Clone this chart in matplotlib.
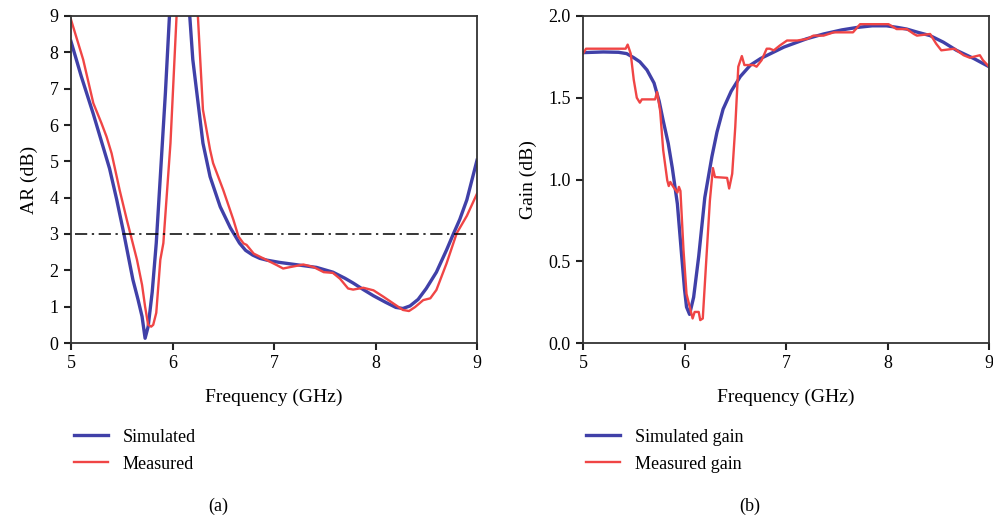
import numpy as np
import matplotlib
matplotlib.use('Agg')
import matplotlib.pyplot as plt

plt.rcParams['font.family'] = ['Liberation Serif', 'DejaVu Serif']

# AR (dB) vs frequency (GHz)
ar_sim_f = [5.00, 5.10, 5.22, 5.30, 5.38, 5.45, 5.52, 5.61, 5.66, 5.70, 5.73, 5.76, 5.80, 5.84,
            5.88, 5.93, 5.97, 6.02, 6.07, 6.12, 6.17, 6.20, 6.24, 6.30, 6.37, 6.47, 6.57, 6.66,
            6.72, 6.79, 6.86, 6.93, 7.05, 7.26, 7.42, 7.58, 7.70, 7.78, 7.88, 7.98, 8.10,
            8.20, 8.27, 8.34, 8.42, 8.50, 8.60, 8.70, 8.77, 8.83, 8.90, 9.00]
ar_sim = [8.30, 7.35, 6.30, 5.55, 4.80, 3.95, 3.02, 1.74, 1.20, 0.73, 0.13, 0.45, 1.40, 2.75,
          4.58, 6.88, 9.00, 12.5, 14.0, 12.5, 9.00, 7.80, 6.88, 5.50, 4.58, 3.75, 3.17, 2.75,
          2.55, 2.42, 2.33, 2.28, 2.22, 2.14, 2.08, 1.95, 1.78, 1.65, 1.47, 1.30, 1.12,
          0.98, 0.95, 1.02, 1.20, 1.50, 1.95, 2.56, 3.02, 3.40, 3.94, 5.03]

ar_meas_f = [5.00, 5.12, 5.22, 5.30, 5.35, 5.40, 5.48, 5.55, 5.65, 5.70, 5.73, 5.76, 5.79,
             5.81, 5.84, 5.88, 5.91, 5.98, 6.04, 6.09, 6.15, 6.21, 6.25, 6.30, 6.37, 6.40,
             6.50, 6.60, 6.65, 6.70, 6.73, 6.80, 6.93, 7.03, 7.09, 7.16, 7.29, 7.39, 7.49,
             7.58, 7.65, 7.73, 7.78, 7.88, 7.98, 8.08, 8.18, 8.27, 8.33, 8.39, 8.47, 8.54,
             8.60, 8.70, 8.80, 8.90, 9.00]
ar_meas = [8.90, 7.80, 6.60, 6.05, 5.68, 5.22, 4.20, 3.39, 2.29, 1.60, 1.00, 0.50, 0.45,
           0.50, 0.83, 2.29, 2.75, 5.50, 9.00, 13.0, 14.0, 12.0, 9.00, 6.42, 5.32, 4.95,
           4.21, 3.39, 2.93, 2.74, 2.70, 2.46, 2.28, 2.14, 2.05, 2.09, 2.16, 2.09, 1.95,
           1.93, 1.77, 1.50, 1.47, 1.52, 1.45, 1.27, 1.08, 0.91, 0.88, 0.99, 1.18, 1.23,
           1.46, 2.19, 3.02, 3.50, 4.11]

# Gain (dB) vs frequency (GHz)
g_sim_f = [5.00, 5.20, 5.35, 5.43, 5.50, 5.56, 5.63, 5.70, 5.75, 5.79, 5.84, 5.88, 5.93, 5.97,
           6.00, 6.02, 6.05, 6.09, 6.14, 6.20, 6.27, 6.32, 6.38, 6.46, 6.55, 6.65, 6.75,
           6.98, 7.20, 7.37, 7.55, 7.70, 7.85, 7.99, 8.10, 8.19, 8.30, 8.42, 8.55, 8.68,
           8.85, 9.00]
g_sim = [1.776, 1.780, 1.778, 1.770, 1.745, 1.72, 1.67, 1.59, 1.48, 1.36, 1.22, 1.07, 0.85, 0.55,
         0.33, 0.22, 0.175, 0.28, 0.53, 0.89, 1.14, 1.29, 1.43, 1.54, 1.63, 1.70, 1.74,
         1.81, 1.86, 1.89, 1.915, 1.93, 1.94, 1.94, 1.93, 1.92, 1.90, 1.88, 1.84, 1.79,
         1.74, 1.69]

g_meas_f = [5.00, 5.03, 5.42, 5.44, 5.47, 5.50, 5.53, 5.56, 5.58, 5.71, 5.73, 5.76, 5.79,
            5.83, 5.845, 5.86, 5.89, 5.93, 5.945, 5.96, 5.99, 6.02, 6.06, 6.08, 6.10, 6.14,
            6.155, 6.18, 6.21, 6.25, 6.28, 6.30, 6.42, 6.44, 6.47, 6.50, 6.53, 6.565, 6.59,
            6.68, 6.71, 6.76, 6.81, 6.84, 6.88, 6.94, 7.01, 7.11, 7.21, 7.27, 7.37, 7.47,
            7.66, 7.73, 7.80, 8.01, 8.09, 8.19, 8.26, 8.29, 8.42, 8.48, 8.53, 8.66, 8.75,
            8.81, 8.91, 8.94, 9.00]
g_meas = [1.77, 1.80, 1.80, 1.825, 1.77, 1.61, 1.50, 1.47, 1.49, 1.49, 1.535, 1.42, 1.18,
          0.995, 0.96, 0.985, 0.955, 0.92, 0.955, 0.93, 0.57, 0.30, 0.20, 0.15, 0.19, 0.19,
          0.14, 0.15, 0.46, 0.87, 1.07, 1.015, 1.01, 0.945, 1.035, 1.32, 1.69, 1.755, 1.70,
          1.70, 1.69, 1.73, 1.80, 1.80, 1.79, 1.82, 1.85, 1.85, 1.86, 1.88, 1.88, 1.90,
          1.90, 1.95, 1.95, 1.95, 1.92, 1.92, 1.89, 1.88, 1.89, 1.83, 1.79, 1.80, 1.76,
          1.745, 1.76, 1.73, 1.69]

blue = '#4040a8'
red = '#f04545'

fig = plt.figure(figsize=(9.93, 5.23), dpi=100)
ax1 = fig.add_axes([71 / 993, 1 - 343 / 523, 406 / 993, 327 / 523])
ax2 = fig.add_axes([583 / 993, 1 - 343 / 523, 406 / 993, 327 / 523])


def style(ax):
    for s in ax.spines.values():
        s.set_color('#333333')
        s.set_linewidth(1.3)
    ax.tick_params(direction='out', length=5, width=1.5, labelsize=13, color='#222222',
                   top=False, right=False, pad=4)
    ax.set_xlim(5, 9)
    ax.set_xticks([5, 6, 7, 8, 9])
    ax.set_xlabel('Frequency (GHz)', fontsize=14, labelpad=12)


def add_legend(ax):
    ax.legend(loc='upper left', bbox_to_anchor=(-0.01, -0.24), frameon=False, fontsize=13,
              handlelength=1.9, handletextpad=0.8, labelspacing=0.55, borderaxespad=0)


# (a) axial ratio
ax1.plot(ar_sim_f, ar_sim, color=blue, lw=2.4, label='Simulated')
ax1.plot(ar_meas_f, ar_meas, color=red, lw=1.7, label='Measured')
ax1.axhline(3, xmin=0.01, xmax=1, color='black', lw=1.1, ls=(0, (8, 3, 1.5, 3)))
ax1.set_ylim(0, 9)
ax1.set_yticks(range(10))
ax1.set_ylabel('AR (dB)', fontsize=14, labelpad=8)
style(ax1)
add_legend(ax1)

# (b) gain
ax2.plot(g_sim_f, g_sim, color=blue, lw=2.4, label='Simulated gain')
ax2.plot(g_meas_f, g_meas, color=red, lw=1.7, label='Measured gain')
ax2.set_ylim(0, 2)
ax2.set_yticks([0, 0.5, 1.0, 1.5, 2.0])
ax2.set_yticklabels(['0.0', '0.5', '1.0', '1.5', '2.0'])
ax2.set_ylabel('Gain (dB)', fontsize=14, labelpad=8)
style(ax2)
add_legend(ax2)

fig.text(218 / 993, 1 - 506 / 523, '(a)', ha='center', va='center', fontsize=13)
fig.text(750 / 993, 1 - 506 / 523, '(b)', ha='center', va='center', fontsize=13)

fig.savefig('out.png', dpi=100)
